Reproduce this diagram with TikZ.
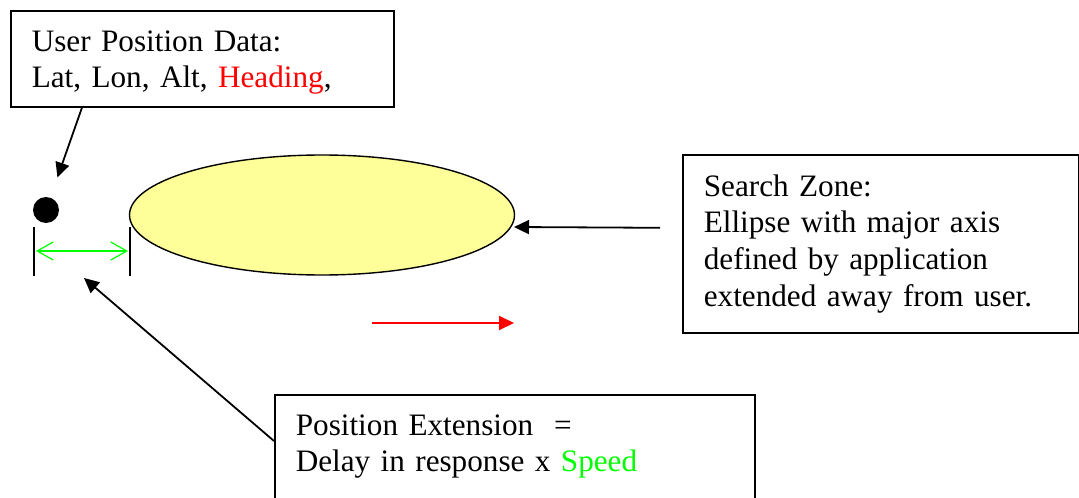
\documentclass[tikz,border=0pt]{standalone}
\usepackage{fontspec}
\setmainfont{Liberation Serif}
\usetikzlibrary{arrows.meta,shapes.geometric,calc}

\definecolor{zonefill}{HTML}{FFFF99}
\definecolor{hdgred}{HTML}{FF0000}
\definecolor{spdgreen}{HTML}{00FF00}

\tikzset{
  note/.style={draw, fill=white, line width=0.8pt, anchor=north west,
    align=left, inner xsep=10.5pt, font=\fontsize{15.6}{18.3}\selectfont},
  arr/.style={-{Triangle[length=7.5pt,width=7pt]}, line width=0.9pt},
  tick/.style={line width=0.8pt}
}

\begin{document}
\begin{tikzpicture}[x=0.5pt,y=-0.5pt]
	\useasboundingbox (0,0) rectangle (1079,497);
	\clip (0,0) rectangle (1079,497);

	% notes
	\node[note, text width=170.5pt, minimum height=48pt] (userbox) at (10,10)
		{\rule{0pt}{14pt}User Position Data:\\Lat, Lon, Alt, \textcolor{hdgred}{Heading},};
	\node[note, text width=177pt, minimum height=89pt] (zonebox) at (682,154)
		{Search Zone:\\Ellipse with major axis\\defined by application\\extended away from user.};
	\node[note, text width=219pt, minimum height=72pt] (extbox) at (274,394)
		{Position Extension\ \ =\\Delay in response x \textcolor{spdgreen}{Speed}\\\strut};

	% user and search zone
	\node[circle, fill=black, minimum size=13pt, inner sep=0pt] (dot) at (46,210) {};
	\node[ellipse, draw, fill=zonefill, line width=0.7pt, minimum width=192.5pt,
		minimum height=60pt, inner sep=0pt] (zone) at (322,215) {};

	% extension marks
	\coordinate (tickl) at (34,227);
	\coordinate (tickr) at (130,227);
	\draw[tick] (tickl) -- ++(0,49);
	\draw[tick] (tickr) -- ++(0,49);
	\draw[spdgreen, line width=0.6pt,
		{Straight Barb[length=8pt,width=9pt]}-{Straight Barb[length=8pt,width=9pt]}]
		($(tickl)+(2,24)$) -- ($(tickr)+(-2,24)$);

	% heading
	\coordinate (hdgstart) at (372,323);
	\coordinate (hdgend) at (514,323);
	\draw[hdgred, line width=1pt, -{Triangle[length=7.5pt,width=7pt]}] (hdgstart) -- (hdgend);

	% callouts
	\coordinate (zonetip) at (514,227);
	\coordinate (exttip) at (84,278);
	\draw[arr, shorten >=10.5pt] ($(userbox.south west)+(72,0)$) -- (dot);
	\draw[arr] ($(zonebox.west)+(-22,-16)$) -- (zonetip);
	\draw[arr] ($(extbox.north west)+(0,47)$) -- (exttip);
\end{tikzpicture}
\end{document}
